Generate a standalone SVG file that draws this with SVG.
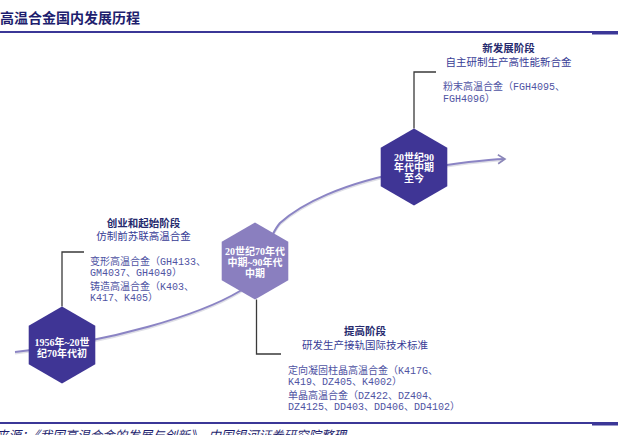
<svg xmlns="http://www.w3.org/2000/svg" width="621" height="435" viewBox="0 0 621 435">
<defs>
<style>
.title{font-family:"Noto Sans CJK SC",sans-serif;font-size:14px;font-weight:bold;fill:#1e1e6e}
.rule{stroke:#3b3797;stroke-width:2;fill:none}
.hexd{fill:#3f3595}
.hexl{fill:#8a7fbf}
.ht{font-family:"Liberation Serif","Noto Sans CJK SC",serif;font-size:10px;font-weight:bold;fill:#ffffff;text-anchor:middle}
.st{font-family:"Liberation Serif","Noto Sans CJK SC",serif;font-size:10.5px;font-weight:bold;fill:#262a6e;text-anchor:middle}
.sub{font-family:"Noto Sans CJK SC",sans-serif;font-size:10.5px;fill:#383c96;text-anchor:middle}
.li{font-family:"Liberation Mono","Noto Sans CJK SC",monospace;font-size:10px;fill:#4f53a3}
.call{stroke:#3a3a3a;stroke-width:1.3;fill:none}
.curve{stroke:#8b84c4;stroke-width:2;fill:none}
.shadow{stroke:#c9c9d6;stroke-width:2;fill:none;opacity:0.6}
.src{font-family:"Noto Sans CJK SC",sans-serif;font-size:12.5px;font-style:italic;fill:#1e1e6e}
</style>
<marker id="arr" markerWidth="12" markerHeight="12" refX="8" refY="6" orient="auto" markerUnits="userSpaceOnUse">
<polyline points="1,1.5 8,6 1,10.5" fill="none" stroke="#8b87b8" stroke-width="1.6"/>
</marker>
</defs>
<rect width="621" height="435" fill="#ffffff"/>
<g id="header">
<text class="title" x="0" y="23">高温合金国内发展历程</text>
<line class="rule" x1="0" y1="32" x2="618" y2="32"/>
<rect x="592" y="32" width="26" height="2.5" fill="#3b3797"/>
</g>
<g id="connectors">
<path class="shadow" d="M15,353.5 C110,343.5 200,316.5 240,292.5 C260,280.5 265,241.5 280,224.5 C300,206.5 340,184.5 414,171.5 C445,166.5 475,161.5 503,160.5"/>
<path class="curve" marker-end="url(#arr)" d="M15,352 C110,342 200,315 240,291 C260,279 265,240 280,223 C300,205 340,183 414,170 C445,165 475,160 505,159"/>
<path class="call" d="M62,306.5 V252 H84"/>
<path class="call" d="M256.5,299.5 V354 H281"/>
<path class="call" d="M414,128.5 V72 H436"/>
</g>
<g id="node-1956">
<polygon class="hexd" points="62,306.5 95.3,325.75 95.3,364.25 62,383.5 28.7,364.25 28.7,325.75"/>
<text class="ht" x="62" y="346">1956年~20世</text>
<text class="ht" x="62" y="357">纪70年代初</text>
</g>
<g id="node-1970s">
<polygon class="hexl" points="255,222.5 288.3,241.75 288.3,280.25 255,299.5 221.7,280.25 221.7,241.75"/>
<text class="ht" x="255" y="254.5">20世纪70年代</text>
<text class="ht" x="255" y="265.5">中期~90年代</text>
<text class="ht" x="255" y="276.5">中期</text>
</g>
<g id="node-1990s">
<polygon class="hexd" points="414,128.5 447.3,147.75 447.3,186.25 414,205.5 380.7,186.25 380.7,147.75"/>
<text class="ht" x="414" y="160.5">20世纪90</text>
<text class="ht" x="414" y="171">年代中期</text>
<text class="ht" x="414" y="181.5">至今</text>
</g>
<g id="stage-1">
<text class="st" x="143.5" y="226.5">创业和起始阶段</text>
<text class="sub" x="143.5" y="240">仿制前苏联高温合金</text>
<text class="li" x="90" y="264.5">变形高温合金（GH4133、</text>
<text class="li" x="90" y="275.5">GM4037、GH4049）</text>
<text class="li" x="90" y="290">铸造高温合金（K403、</text>
<text class="li" x="90" y="301">K417、K405）</text>
</g>
<g id="stage-2">
<text class="st" x="365" y="335">提高阶段</text>
<text class="sub" x="365" y="348.5">研发生产接轨国际技术标准</text>
<text class="li" x="288" y="374">定向凝固柱晶高温合金（K417G、</text>
<text class="li" x="288" y="385">K419、DZ405、K4002）</text>
<text class="li" x="288" y="398.5">单晶高温合金（DZ422、DZ404、</text>
<text class="li" x="288" y="410">DZ4125、DD403、DD406、DD4102）</text>
</g>
<g id="stage-3">
<text class="st" x="508.5" y="51.5">新发展阶段</text>
<text class="sub" x="508.5" y="65.5">自主研制生产高性能新合金</text>
<text class="li" x="443" y="90">粉末高温合金（FGH4095、</text>
<text class="li" x="443" y="101.5">FGH4096）</text>
</g>
<g id="footer">
<line class="rule" x1="0" y1="423" x2="618" y2="423"/>
<rect x="592" y="423" width="26" height="2.5" fill="#3b3797"/>
<text class="src" x="-4" y="440">来源：《我国高温合金的发展与创新》，中国银河证券研究院整理</text>
</g>
</svg>
